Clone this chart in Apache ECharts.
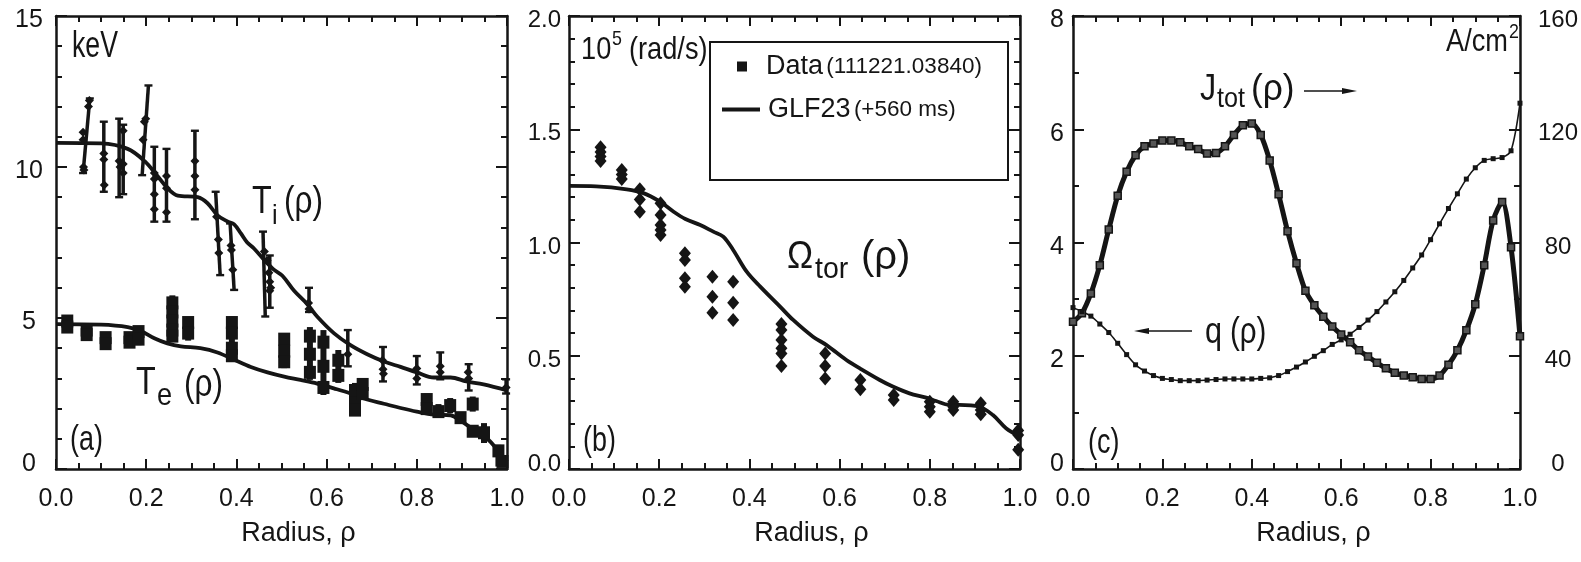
<!DOCTYPE html>
<html><head><meta charset="utf-8">
<script src="https://cdn.jsdelivr.net/npm/echarts@6/dist/echarts.min.js"></script>
<style>html,body{margin:0;padding:0;background:#fff}#c{width:1581px;height:562px}</style>
</head><body><div id="c"></div>
<script>
const SANS = '"Liberation Sans", Arial, Helvetica, sans-serif';
const INK = '#151515';

// ---------- Panel (a): temperatures (keV) ----------
const tiModelRho = [0, 0.1, 0.159, 0.196, 0.225, 0.247, 0.27, 0.314, 0.336, 0.358, 0.38, 0.395, 0.41, 0.424, 0.439, 0.46, 0.483, 0.502, 0.528, 0.557, 0.579, 0.616, 0.653, 0.69, 0.727, 0.764, 0.8, 0.838, 0.875, 0.91, 0.948, 1.0];
const tiModelVal = [10.8, 10.78, 10.6, 10.2, 9.7, 9.3, 9.05, 9.0, 8.8, 8.4, 8.2, 8.1, 7.8, 7.5, 7.3, 6.95, 6.6, 6.4, 5.9, 5.46, 5.05, 4.5, 4.1, 3.8, 3.56, 3.38, 3.2, 3.03, 3.03, 2.9, 2.8, 2.6];
const teModelRho = [0, 0.1, 0.159, 0.188, 0.218, 0.247, 0.277, 0.32, 0.358, 0.395, 0.432, 0.469, 0.506, 0.542, 0.579, 0.616, 0.653, 0.69, 0.727, 0.764, 0.8, 0.838, 0.875, 0.897, 0.926, 0.956, 0.978, 1.0];
const teModelVal = [4.8, 4.78, 4.7, 4.57, 4.33, 4.16, 4.06, 4.0, 3.86, 3.62, 3.38, 3.2, 3.06, 2.95, 2.83, 2.67, 2.5, 2.3, 2.16, 2.02, 1.9, 1.8, 1.78, 1.6, 1.3, 1.0, 0.65, 0.24];

// Ti error bars: start (rho1, T1) to end (rho2, T2)
const tiBarRho1 = [0.06, 0.106, 0.14, 0.149, 0.191, 0.218, 0.245, 0.308, 0.354, 0.386, 0.459, 0.474, 0.561, 0.647, 0.725, 0.8, 0.852, 0.915, 0.998];
const tiBarT1   = [9.8, 9.18, 9.0, 9.1, 9.73, 8.19, 8.19, 8.27, 9.18, 8.13, 7.86, 7.07, 6.0, 4.6, 4.04, 3.74, 3.86, 3.47, 2.97];
const tiBarRho2 = [0.075, 0.106, 0.14, 0.149, 0.205, 0.218, 0.245, 0.308, 0.364, 0.395, 0.464, 0.474, 0.561, 0.647, 0.725, 0.8, 0.852, 0.915, 0.998];
const tiBarT2   = [12.27, 11.5, 11.6, 11.4, 12.7, 10.67, 10.6, 11.2, 6.42, 5.93, 5.05, 5.34, 5.2, 3.4, 2.9, 2.8, 2.97, 2.6, 2.5];
const tiPtRho = [0.06, 0.06, 0.061, 0.062, 0.072, 0.074, 0.106, 0.106, 0.107, 0.14, 0.142, 0.149, 0.149, 0.149, 0.193, 0.196, 0.199, 0.218, 0.218, 0.218, 0.218, 0.245, 0.245, 0.245, 0.308, 0.308, 0.308, 0.356, 0.36, 0.361, 0.388, 0.389, 0.392, 0.462, 0.468, 0.472, 0.474, 0.474, 0.476, 0.56, 0.561, 0.647, 0.724, 0.725, 0.726, 0.8, 0.8, 0.852, 0.852, 0.914, 0.915, 0.998];
const tiPtVal = [11.15, 10.9, 10.0, 9.9, 12.0, 12.2, 10.45, 10.25, 9.4, 10.2, 10.0, 11.2, 10.1, 9.8, 10.9, 11.5, 11.6, 9.8, 9.6, 9.1, 8.6, 9.7, 9.3, 8.5, 10.2, 9.7, 9.25, 8.35, 7.6, 7.15, 7.4, 7.25, 6.6, 7.2, 6.9, 6.5, 6.2, 5.9, 6.0, 5.5, 5.3, 3.8, 3.6, 3.3, 3.15, 3.33, 3.0, 3.4, 3.2, 3.2, 3.0, 2.7];

// Te data: bars (rho, low, high) and points
const teBarRho = [0.025, 0.068, 0.11, 0.163, 0.183, 0.258, 0.293, 0.39, 0.506, 0.563, 0.593, 0.626, 0.663, 0.68, 0.822, 0.848, 0.874, 0.897, 0.924, 0.924, 0.949, 0.981];
const teBarLo  = [4.55, 4.3, 4.0, 4.1, 4.1, 4.3, 4.25, 3.6, 3.34, 2.95, 2.45, 2.85, 1.79, 2.28, 1.79, 1.73, 1.85, 1.57, 1.9, 1.07, 0.86, 0.08];
const teBarHi  = [5.0, 4.75, 4.5, 4.45, 4.7, 5.75, 5.0, 5.05, 4.5, 4.7, 4.6, 3.94, 2.85, 3.0, 2.5, 2.15, 2.35, 1.85, 2.4, 1.4, 1.52, 0.8];
const tePtRho = [0.025, 0.025, 0.068, 0.068, 0.11, 0.11, 0.163, 0.163, 0.183, 0.183, 0.258, 0.258, 0.258, 0.258, 0.258, 0.293, 0.293, 0.39, 0.39, 0.39, 0.39, 0.506, 0.506, 0.506, 0.563, 0.563, 0.563, 0.593, 0.593, 0.593, 0.626, 0.626, 0.663, 0.663, 0.663, 0.68, 0.68, 0.822, 0.822, 0.848, 0.874, 0.897, 0.924, 0.924, 0.949, 0.981, 0.99];
const tePtVal = [4.9, 4.7, 4.6, 4.45, 4.35, 4.15, 4.35, 4.2, 4.55, 4.3, 5.5, 5.2, 4.9, 4.6, 4.4, 4.85, 4.5, 4.85, 4.5, 4.0, 3.75, 4.3, 3.9, 3.55, 4.4, 3.8, 3.2, 4.2, 3.4, 2.7, 3.6, 3.1, 2.6, 2.2, 1.95, 2.8, 2.5, 2.3, 2.0, 1.9, 2.1, 1.7, 2.15, 1.25, 1.2, 0.6, 0.25];

// ---------- Panel (b): toroidal rotation (1e5 rad/s) ----------
const omModelRho = [0, 0.06, 0.128, 0.165, 0.202, 0.232, 0.258, 0.291, 0.32, 0.342, 0.364, 0.394, 0.424, 0.468, 0.497, 0.541, 0.571, 0.615, 0.645, 0.689, 0.718, 0.755, 0.792, 0.814, 0.843, 0.865, 0.91, 0.94, 0.969, 1.0];
const omModelVal = [1.25, 1.248, 1.235, 1.218, 1.18, 1.136, 1.104, 1.077, 1.048, 1.026, 0.967, 0.871, 0.805, 0.717, 0.658, 0.584, 0.547, 0.481, 0.444, 0.393, 0.364, 0.334, 0.315, 0.3, 0.283, 0.283, 0.275, 0.238, 0.18, 0.143];
const omDataRho = [0.07, 0.07, 0.07, 0.07, 0.117, 0.117, 0.117, 0.157, 0.157, 0.157, 0.203, 0.203, 0.203, 0.203, 0.203, 0.257, 0.257, 0.257, 0.257, 0.318, 0.318, 0.318, 0.364, 0.364, 0.364, 0.471, 0.471, 0.471, 0.471, 0.471, 0.471, 0.568, 0.568, 0.568, 0.646, 0.646, 0.72, 0.72, 0.8, 0.8, 0.8, 0.852, 0.852, 0.852, 0.913, 0.913, 0.913, 0.996, 0.996, 0.996];
const omDataVal = [1.42, 1.40, 1.38, 1.36, 1.32, 1.30, 1.28, 1.235, 1.19, 1.136, 1.173, 1.121, 1.077, 1.055, 1.033, 0.952, 0.923, 0.842, 0.805, 0.849, 0.761, 0.69, 0.827, 0.734, 0.658, 0.64, 0.614, 0.57, 0.533, 0.51, 0.455, 0.51, 0.455, 0.40, 0.393, 0.352, 0.327, 0.305, 0.297, 0.275, 0.253, 0.297, 0.275, 0.26, 0.29, 0.26, 0.242, 0.17, 0.15, 0.085];

// ---------- Panel (c): q and current density ----------
const rhoC = [0, 0.02, 0.04, 0.06, 0.08, 0.1, 0.12, 0.14, 0.16, 0.18, 0.2, 0.22, 0.24, 0.26, 0.28, 0.3, 0.32, 0.34, 0.36, 0.38, 0.4, 0.42, 0.44, 0.46, 0.48, 0.5, 0.52, 0.54, 0.56, 0.58, 0.6, 0.62, 0.64, 0.66, 0.68, 0.7, 0.72, 0.74, 0.76, 0.78, 0.8, 0.82, 0.84, 0.86, 0.88, 0.9, 0.92, 0.94, 0.96, 0.98, 1.0];
const jTot = [52, 55, 62, 72, 84.6, 96.5, 105, 110.8, 114, 115, 116, 116, 115.4, 114, 113, 111.4, 111.6, 114, 118, 121.4, 122, 118, 109, 97, 84, 72.7, 63, 57.8, 53.8, 50.3, 47.5, 44.8, 41.9, 39.7, 37.5, 35.6, 34, 33, 32.4, 31.8, 31.8, 33, 36.8, 41.9, 49, 58.2, 72, 87.8, 94.3, 78.3, 46.9];
const qVal = [2.85, 2.78, 2.7, 2.56, 2.41, 2.22, 2.02, 1.84, 1.73, 1.65, 1.6, 1.58, 1.56, 1.56, 1.56, 1.57, 1.58, 1.59, 1.59, 1.59, 1.59, 1.6, 1.61, 1.65, 1.72, 1.8, 1.89, 1.99, 2.09, 2.2, 2.28, 2.38, 2.5, 2.63, 2.78, 2.95, 3.13, 3.33, 3.55, 3.78, 4.05, 4.33, 4.6, 4.86, 5.12, 5.32, 5.45, 5.48, 5.5, 5.62, 6.46];

// ---------- tick labels ----------
const xTickLabels = ['0.0', '0.2', '0.4', '0.6', '0.8', '1.0'];
const yTickLabelsA = ['0', '5', '10', '15'];
const yTickLabelsB = ['0.0', '0.5', '1.0', '1.5', '2.0'];
const yTickLabelsC = ['0', '2', '4', '6', '8'];
const yTickLabelsCR = ['0', '40', '80', '120', '160'];

const zip = (a, b) => a.map((v, i) => [v, b[i]]);

const GRIDS = [
  {left: 56, top: 16, width: 451, height: 453},
  {left: 569, top: 16, width: 451, height: 453},
  {left: 1073, top: 16, width: 450, height: 453}
];

const axisLine = {show: true, onZero: false, lineStyle: {color: INK, width: 2.5}};
function xAxisFor(g, top) {
  return {
    type: 'value', gridIndex: g, min: 0, max: 1, interval: 0.2,
    position: top ? 'top' : 'bottom',
    axisLine: axisLine,
    axisTick: {show: true, inside: true, length: 10, lineStyle: {color: INK, width: 2}},
    minorTick: {show: true, splitNumber: 4, length: 6, lineStyle: {color: INK, width: 2}},
    splitLine: {show: false},
    axisLabel: top ? {show: false} : {
      show: true, margin: 18, color: INK, fontSize: 25, fontFamily: SANS,
      formatter: v => xTickLabels[Math.round(v / 0.2)]
    },
    name: top ? '' : 'Radius, ρ',
    nameLocation: 'middle', nameGap: 51,
    nameTextStyle: {color: INK, fontSize: 27, fontFamily: SANS, padding: [0, 0, 0, 34]}
  };
}
function yAxisFor(g, right, min, max, interval, minorSplit, labels, labelOpt) {
  const lab = labels ? Object.assign({
    show: true, color: INK,
    formatter: v => {
      const k = Math.round((v - min) / interval);
      return (k === 0 ? '{z|' : '{d|') + labels[k] + '}';
    },
    rich: {
      d: {padding: [9, 0, 0, 0], fontSize: labelOpt.fontSize, fontFamily: SANS, color: INK},
      z: {padding: [0, 0, 9, 0], fontSize: labelOpt.fontSize, fontFamily: SANS, color: INK}
    }
  }, labelOpt) : {show: false};
  return {
    type: 'value', gridIndex: g, min: min, max: max, interval: interval,
    position: right ? 'right' : 'left',
    axisLine: axisLine,
    axisTick: {show: true, inside: true, length: 11, lineStyle: {color: INK, width: 2}},
    minorTick: {show: true, splitNumber: minorSplit, length: 6, lineStyle: {color: INK, width: 2}},
    splitLine: {show: false},
    axisLabel: lab
  };
}

function segRender(width, cap) {
  return function (params, api) {
    const a = api.coord([api.value(0), api.value(1)]);
    const b = api.coord([api.value(2), api.value(3)]);
    const children = [
      {type: 'line', shape: {x1: a[0], y1: a[1], x2: b[0], y2: b[1]}, style: {stroke: INK, lineWidth: width}}
    ];
    if (cap > 0) {
      children.push({type: 'line', shape: {x1: a[0] - cap, y1: a[1], x2: a[0] + cap, y2: a[1]}, style: {stroke: INK, lineWidth: 2.4}});
      children.push({type: 'line', shape: {x1: b[0] - cap, y1: b[1], x2: b[0] + cap, y2: b[1]}, style: {stroke: INK, lineWidth: 2.4}});
    }
    return {type: 'group', children: children};
  };
}

const tiBars = tiBarRho1.map((r, i) => [r, tiBarT1[i], tiBarRho2[i], tiBarT2[i]]);
const teBars = teBarRho.map((r, i) => [r, teBarLo[i], r, teBarHi[i]]);

// condensed-looking label text (horizontal squeeze of a regular face)
function txt(x, y, text, size, sx, align) {
  return {
    type: 'text', x: x, y: y, silent: true, scaleX: sx || 0.8, scaleY: 1,
    style: {text: text, fill: INK, fontSize: size, fontFamily: SANS, align: align || 'left', verticalAlign: 'middle'}
  };
}
function arrow(x1, x2, y) {
  const dir = x2 > x1 ? 1 : -1;
  return [
    {type: 'line', silent: true, shape: {x1: x1, y1: y, x2: x2 - dir * 10, y2: y}, style: {stroke: INK, lineWidth: 1.6}},
    {type: 'polygon', silent: true, shape: {points: [[x2, y], [x2 - dir * 15, y - 3], [x2 - dir * 15, y + 3]]}, style: {fill: INK}}
  ];
}

const option = {
  backgroundColor: '#ffffff',
  animation: false,
  grid: GRIDS,
  xAxis: [xAxisFor(0, false), xAxisFor(1, false), xAxisFor(2, false), xAxisFor(0, true), xAxisFor(1, true), xAxisFor(2, true)],
  yAxis: [
    yAxisFor(0, false, 0, 15, 5, 5, yTickLabelsA, {fontSize: 25, fontFamily: SANS, align: 'center', margin: 27}),
    yAxisFor(1, false, 0, 2, 0.5, 5, yTickLabelsB, {fontSize: 24, fontFamily: SANS, align: 'right', margin: 8}),
    yAxisFor(2, false, 0, 8, 2, 2, yTickLabelsC, {fontSize: 25, fontFamily: SANS, align: 'center', margin: 16}),
    yAxisFor(0, true, 0, 15, 5, 5, null),
    yAxisFor(1, true, 0, 2, 0.5, 5, null),
    yAxisFor(2, true, 0, 160, 40, 2, yTickLabelsCR, {fontSize: 24, fontFamily: SANS, align: 'center', margin: 38})
  ],
  legend: [
    {
      data: [{name: 'Data', icon: 'rect'}], left: 737, top: 53, padding: 0,
      itemWidth: 10, itemHeight: 10, itemStyle: {color: INK, opacity: 1},
      formatter: () => '{a|Data} {b|(111221.03840)}',
      textStyle: {color: INK, rich: {
        a: {fontSize: 27, fontFamily: SANS, color: INK, padding: [0, 0, 0, 14]},
        b: {fontSize: 22.5, fontFamily: SANS, color: INK}
      }}
    },
    {
      data: [{name: 'GLF23', icon: 'rect'}], left: 722, top: 96, padding: 0,
      itemWidth: 38, itemHeight: 4, itemStyle: {color: INK},
      formatter: () => '{a|GLF23} {b|(+560 ms)}',
      textStyle: {color: INK, rich: {
        a: {fontSize: 27, fontFamily: SANS, color: INK, padding: [0, 0, 0, 3]},
        b: {fontSize: 22.5, fontFamily: SANS, color: INK}
      }}
    }
  ],
  graphic: [
    {type: 'rect', silent: true, shape: {x: 710, y: 42, width: 298, height: 138}, style: {fill: 'none', stroke: INK, lineWidth: 2}},
    // panel a
    txt(72, 47, 'keV', 36, 0.74),
    txt(252, 203, 'T', 38, 0.85), txt(272, 216, 'i', 28, 0.9), txt(284, 203, '(ρ)', 38, 0.83),
    txt(136, 384, 'T', 38, 0.85), txt(157, 396, 'e', 32, 0.85), txt(184, 386, '(ρ)', 38, 0.83),
    txt(70, 440, '(a)', 35, 0.77),
    // panel b
    txt(581, 50, '10', 32, 0.85), txt(612, 39, '5', 21, 0.85), txt(629, 50, '(rad/s)', 32, 0.85),
    txt(787, 258, 'Ω', 38, 0.92), txt(815, 270, 'tor', 30, 0.95), txt(861, 258, '(ρ)', 40, 1.0),
    txt(583, 441, '(b)', 35, 0.77),
    // panel c
    txt(1508, 42, 'A/cm', 32, 0.85, 'right'),
    txt(1509, 32, '2', 21, 0.85),
    txt(1200, 90, 'J', 36, 0.9), txt(1217, 99, 'tot', 28, 0.9), txt(1251, 90, '(ρ)', 36, 0.98),
    txt(1205, 333, 'q', 36, 0.85), txt(1230, 333, '(ρ)', 36, 0.82),
    txt(1088, 443, '(c)', 35, 0.77)
  ].concat(arrow(1304, 1357, 91)).concat(arrow(1192, 1134, 331)),
  series: [
    {type: 'line', name: 'Ti model', xAxisIndex: 0, yAxisIndex: 0, data: zip(tiModelRho, tiModelVal), smooth: 0.35, symbol: 'none', lineStyle: {color: INK, width: 3.8}, z: 3},
    {type: 'line', name: 'Te model', xAxisIndex: 0, yAxisIndex: 0, data: zip(teModelRho, teModelVal), smooth: 0.35, symbol: 'none', lineStyle: {color: INK, width: 3.8}, z: 3},
    {type: 'custom', name: 'Ti bars', xAxisIndex: 0, yAxisIndex: 0, data: tiBars, renderItem: segRender(3.5, 4), encode: {x: [0, 2], y: [1, 3]}, z: 4},
    {type: 'scatter', name: 'Ti data', xAxisIndex: 0, yAxisIndex: 0, data: zip(tiPtRho, tiPtVal), symbol: 'diamond', symbolSize: 9, itemStyle: {color: INK, opacity: 1}, z: 5},
    {type: 'custom', name: 'Te bars', xAxisIndex: 0, yAxisIndex: 0, data: teBars, renderItem: segRender(6, 0), encode: {x: [0, 2], y: [1, 3]}, z: 4},
    {type: 'scatter', name: 'Te data', xAxisIndex: 0, yAxisIndex: 0, data: zip(tePtRho, tePtVal), symbol: 'rect', symbolSize: [12, 13], itemStyle: {color: INK, opacity: 1}, z: 5},
    {type: 'line', name: 'GLF23', xAxisIndex: 1, yAxisIndex: 1, data: zip(omModelRho, omModelVal), smooth: 0.35, symbol: 'none', lineStyle: {color: INK, width: 3.8}, itemStyle: {color: INK}, z: 3},
    {type: 'scatter', name: 'Data', xAxisIndex: 1, yAxisIndex: 1, data: zip(omDataRho, omDataVal), symbol: 'diamond', symbolSize: [12, 14], itemStyle: {color: INK, opacity: 1}, z: 5},
    {type: 'line', name: 'Jtot', xAxisIndex: 2, yAxisIndex: 5, data: zip(rhoC, jTot), smooth: 0.3, symbol: 'rect', symbolSize: 7, showAllSymbol: true, lineStyle: {color: INK, width: 5}, itemStyle: {color: '#555', borderColor: INK, borderWidth: 1.5}, z: 4},
    {type: 'line', name: 'q', xAxisIndex: 2, yAxisIndex: 2, data: zip(rhoC, qVal), smooth: 0.3, symbol: 'rect', symbolSize: 5, showAllSymbol: true, lineStyle: {color: INK, width: 1.6}, itemStyle: {color: INK}, z: 4}
  ]
};

const chart = echarts.init(document.getElementById('c'), null, {renderer: 'canvas'});
chart.setOption(option);
</script>
</body></html>
